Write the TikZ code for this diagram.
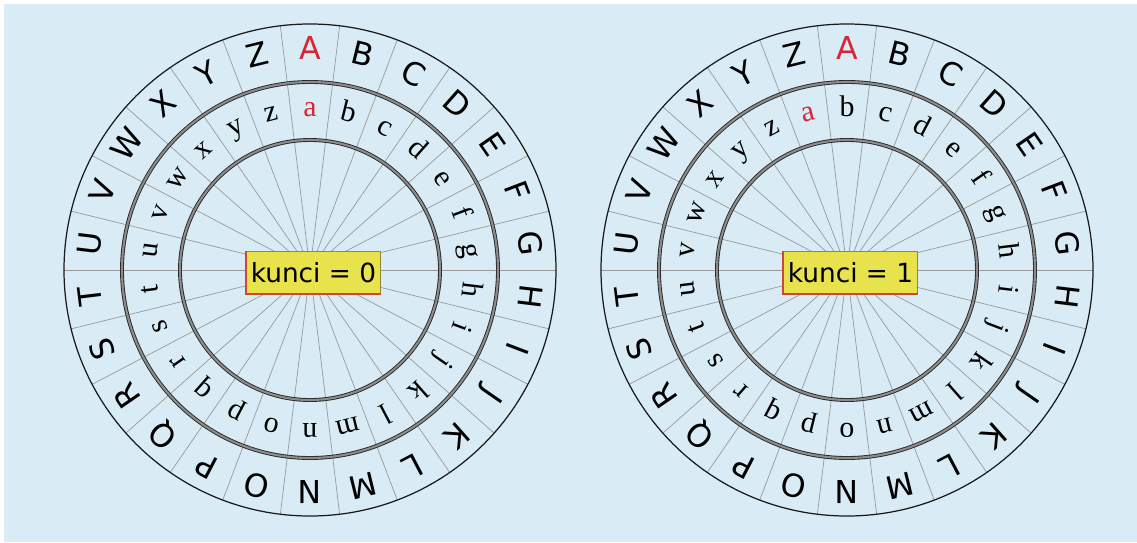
\documentclass[tikz,border=0pt]{standalone}
\usepackage{fontspec}
\setmainfont{Liberation Serif}
\setsansfont{DejaVu Sans}
\usetikzlibrary{positioning}

\definecolor{bgblue}{RGB}{217,236,245}
\definecolor{keyred}{RGB}{214,38,56}
\definecolor{boxyellow}{RGB}{232,226,76}
\definecolor{boxedge}{RGB}{150,135,50}
\definecolor{boxshade}{RGB}{205,70,55}

\begin{document}
\begin{tikzpicture}[
	spoke/.style={gray!80, line width=0.4pt},
	rim/.style={black!90, line width=0.7pt},
	rope/.style={black!85, line width=0.5pt, double=black!45, double distance=1.2pt},
	upper/.style={inner sep=0pt, font=\fontsize{18}{18}\sffamily, text height=0.73em, text depth=0pt},
	lower/.style={inner sep=0pt, font=\fontsize{17}{17}\selectfont, text height=0.68em, text depth=0.2em},
	keybox/.style={fill=boxyellow, draw=boxedge, line width=0.5pt, inner sep=0pt, minimum width=2.68cm, minimum height=0.84cm, font=\fontsize{15}{15}\sffamily}
]
	% background, with the thin white edge on top and left
	\useasboundingbox (0,0) rectangle (22.74,10.84);
	\fill[white] (0,0) rectangle (22.74,10.84);
	\fill[bgblue] (0.08,0) rectangle (22.74,10.76);

	% one wheel per key
	\foreach \w/\cx/\k in {L/6.20/0, R/16.94/1} {
		\begin{scope}[shift={(\cx,5.44)}]
			\foreach \s in {0,...,25}
				\draw[spoke] (0,0) -- (\s*360/26:4.92);
			\draw[rim] (0,0) circle[radius=4.92];
			\draw[rope] (0,0) circle[radius=3.76];
			\draw[rope] (0,0) circle[radius=2.60];
			% outer ring: plain alphabet
			\foreach \ch [count=\i from 0] in {A,...,Z} {
				\ifnum\i=0 \def\lc{keyred}\else\def\lc{black}\fi
				\pgfmathsetmacro\ang{90-\i*360/26}
				\node[upper, text=\lc, rotate=\ang-90] (\w-up-\i) at (\ang:4.34) {\ch};
			}
			% inner ring: shifted alphabet
			\foreach \ch [count=\i from 0] in {a,...,z} {
				\ifnum\i=0 \def\lc{keyred}\else\def\lc{black}\fi
				\pgfmathsetmacro\ang{90-(\i-\k)*360/26}
				\node[lower, text=\lc, rotate=\ang-90] (\w-low-\i) at (\ang:3.15) {\ch};
			}
			\node[keybox] (\w-key) at (0.07,-0.05) {kunci = \k};
			\draw[boxshade, line width=0.8pt] (\w-key.north west) -- (\w-key.south west) -- (\w-key.south east);
		\end{scope}
	}
\end{tikzpicture}
\end{document}
